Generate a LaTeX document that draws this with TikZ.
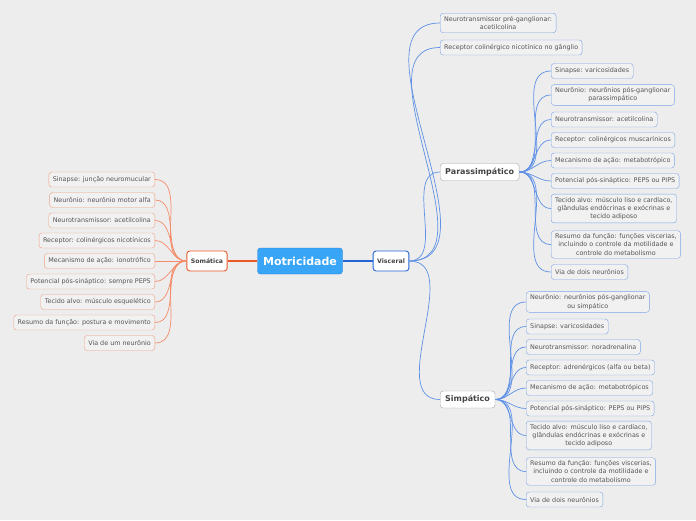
\documentclass[tikz,border=0pt]{standalone}
\usepackage{fontspec}
\setmainfont{DejaVu Sans}
\usepackage{xcolor}
\usetikzlibrary{positioning, arrows.meta}
\definecolor{bggray}{RGB}{237,237,237}
\definecolor{leaffill}{RGB}{241,241,241}
\definecolor{rootblue}{RGB}{56,165,247}
\definecolor{rootedge}{RGB}{40,130,220}
\definecolor{somorange}{RGB}{235,88,40}
\definecolor{linkorange}{RGB}{244,140,105}
\definecolor{leaforange}{RGB}{240,160,132}
\definecolor{viscblue}{RGB}{35,100,214}
\definecolor{linkblue}{RGB}{95,145,230}
\definecolor{leafblue}{RGB}{125,165,232}
\definecolor{textgray}{RGB}{85,85,85}

\begin{document}
\begin{tikzpicture}[x=1pt, y=-1pt,
  root/.style={rectangle, rounded corners=3pt, draw=rootedge, fill=rootblue, text=white, minimum width=85pt, minimum height=26pt, font=\fontsize{11}{13}\selectfont\bfseries},
  branch/.style={rectangle, rounded corners=3pt, line width=0.9pt, fill=white, text=textgray!80!black, minimum height=20pt, inner xsep=4pt, font=\fontsize{6.2}{7}\selectfont\bfseries},
  group/.style={rectangle, rounded corners=3pt, draw=gray!70, fill=white, text=textgray!80!black, minimum height=17pt, inner xsep=5pt, font=\fontsize{8}{9}\selectfont\bfseries},
  leaf/.style={rectangle, rounded corners=3pt, fill=leaffill, text=textgray, align=center, inner xsep=4pt, inner ysep=3pt, minimum height=15pt, font=\fontsize{6.4}{8.2}\selectfont},
  leafL/.style={leaf, draw=leaforange, anchor=east},
  leafR/.style={leaf, draw=leafblue, anchor=west},
  mainlinkL/.style={draw=somorange, line width=1.4pt},
  mainlinkR/.style={draw=viscblue, line width=1.4pt},
  linkL/.style={draw=linkorange, line width=0.7pt},
  linkR/.style={draw=linkblue, line width=0.7pt}
]
\fill[bggray] (0,0) rectangle (696,520);

% centro
\node[root] (motor) at (300,261) {Motricidade};
\node[branch, draw=somorange] (soma) at (207,261) {Somática};
\node[branch, draw=viscblue] (visc) at (391,261) {Visceral};

% ramo somatico
\node[leafL] (som1) at (155,179.5) {Sinapse: junção neuromucular};
\node[leafL] (som2) at (155,200) {Neurônio: neurônio motor alfa};
\node[leafL] (som3) at (155,220.5) {Neurotransmissor: acetilcolina};
\node[leafL] (som4) at (155,240.5) {Receptor: colinérgicos nicotínicos};
\node[leafL] (som5) at (155,261) {Mecanismo de ação: ionotrófico};
\node[leafL] (som6) at (155,281.5) {Potencial pós-sináptico: sempre PEPS};
\node[leafL] (som7) at (155,302) {Tecido alvo: músculo esquelético};
\node[leafL] (som8) at (155,322.5) {Resumo da função: postura e movimento};
\node[leafL] (som9) at (155,343) {Via de um neurônio};

% ramo visceral
\node[leafR] (visc1) at (440,23) {Neurotransmissor pré-ganglionar:\\acetilcolina};
\node[leafR] (visc2) at (440,47.5) {Receptor colinérgico nicotínico no gânglio};
\node[group, anchor=west] (para) at (440,172) {Parassimpático};
\node[group, anchor=west] (simp) at (440,399.5) {Simpático};

% parassimpatico
\node[leafR] (para1) at (551,71) {Sinapse: varicosidades};
\node[leafR] (para2) at (551,95) {Neurônio: neurônios pós-ganglionar\\parassimpático};
\node[leafR] (para3) at (551,119.5) {Neurotransmissor: acetilcolina};
\node[leafR] (para4) at (551,140) {Receptor: colinérgicos muscarínicos};
\node[leafR] (para5) at (551,160.5) {Mecanismo de ação: metabotrópico};
\node[leafR] (para6) at (551,181) {Potencial pós-sináptico: PEPS ou PIPS};
\node[leafR] (para7) at (551,208.5) {Tecido alvo: músculo liso e cardíaco,\\glândulas endócrinas e exócrinas e\\tecido adiposo};
\node[leafR] (para8) at (551,244.5) {Resumo da função: funções viscerias,\\incluindo o controle da motilidade e\\controle do metabolismo};
\node[leafR] (para9) at (551,272) {Via de dois neurônios};

% simpatico
\node[leafR] (simp1) at (526,302) {Neurônio: neurônios pós-ganglionar\\ou simpático};
\node[leafR] (simp2) at (526,326.5) {Sinapse: varicosidades};
\node[leafR] (simp3) at (526,347) {Neurotransmissor: noradrenalina};
\node[leafR] (simp4) at (526,367.5) {Receptor: adrenérgicos (alfa ou beta)};
\node[leafR] (simp5) at (526,388) {Mecanismo de ação: metabotrópicos};
\node[leafR] (simp6) at (526,408.5) {Potencial pós-sináptico: PEPS ou PIPS};
\node[leafR] (simp7) at (526,435.5) {Tecido alvo: músculo liso e cardíaco,\\glândulas endócrinas e exócrinas e\\tecido adiposo};
\node[leafR] (simp8) at (526,471.5) {Resumo da função: funções viscerias,\\incluindo o controle da motilidade e\\controle do metabolismo};
\node[leafR] (simp9) at (526,499.5) {Via de dois neurônios};

% ligacoes
\draw[mainlinkL] (motor) -- (soma);
\draw[mainlinkR] (motor) -- (visc);

\draw[linkL] (soma.west) to[out=180, in=0] (som1.east);
\draw[linkL] (soma.west) to[out=180, in=0] (som2.east);
\draw[linkL] (soma.west) to[out=180, in=0] (som3.east);
\draw[linkL] (soma.west) to[out=180, in=0] (som4.east);
\draw[linkL] (soma.west) -- (som5.east);
\draw[linkL] (soma.west) to[out=180, in=0] (som6.east);
\draw[linkL] (soma.west) to[out=180, in=0] (som7.east);
\draw[linkL] (soma.west) to[out=180, in=0] (som8.east);
\draw[linkL] (soma.west) to[out=180, in=0] (som9.east);

\draw[linkR] (visc.east) to[out=0, in=180] (visc1.west);
\draw[linkR] (visc.east) to[out=0, in=180] (visc2.west);
\draw[linkR] (visc.east) to[out=0, in=180] (para.west);
\draw[linkR] (visc.east) to[out=0, in=180] (simp.west);

\draw[linkR] (para.east) to[out=0, in=180] (para1.west);
\draw[linkR] (para.east) to[out=0, in=180] (para2.west);
\draw[linkR] (para.east) to[out=0, in=180] (para3.west);
\draw[linkR] (para.east) to[out=0, in=180] (para4.west);
\draw[linkR] (para.east) to[out=0, in=180] (para5.west);
\draw[linkR] (para.east) to[out=0, in=180] (para6.west);
\draw[linkR] (para.east) to[out=0, in=180] (para7.west);
\draw[linkR] (para.east) to[out=0, in=180] (para8.west);
\draw[linkR] (para.east) to[out=0, in=180] (para9.west);

\draw[linkR] (simp.east) to[out=0, in=180] (simp1.west);
\draw[linkR] (simp.east) to[out=0, in=180] (simp2.west);
\draw[linkR] (simp.east) to[out=0, in=180] (simp3.west);
\draw[linkR] (simp.east) to[out=0, in=180] (simp4.west);
\draw[linkR] (simp.east) to[out=0, in=180] (simp5.west);
\draw[linkR] (simp.east) to[out=0, in=180] (simp6.west);
\draw[linkR] (simp.east) to[out=0, in=180] (simp7.west);
\draw[linkR] (simp.east) to[out=0, in=180] (simp8.west);
\draw[linkR] (simp.east) to[out=0, in=180] (simp9.west);
\end{tikzpicture}
\end{document}
